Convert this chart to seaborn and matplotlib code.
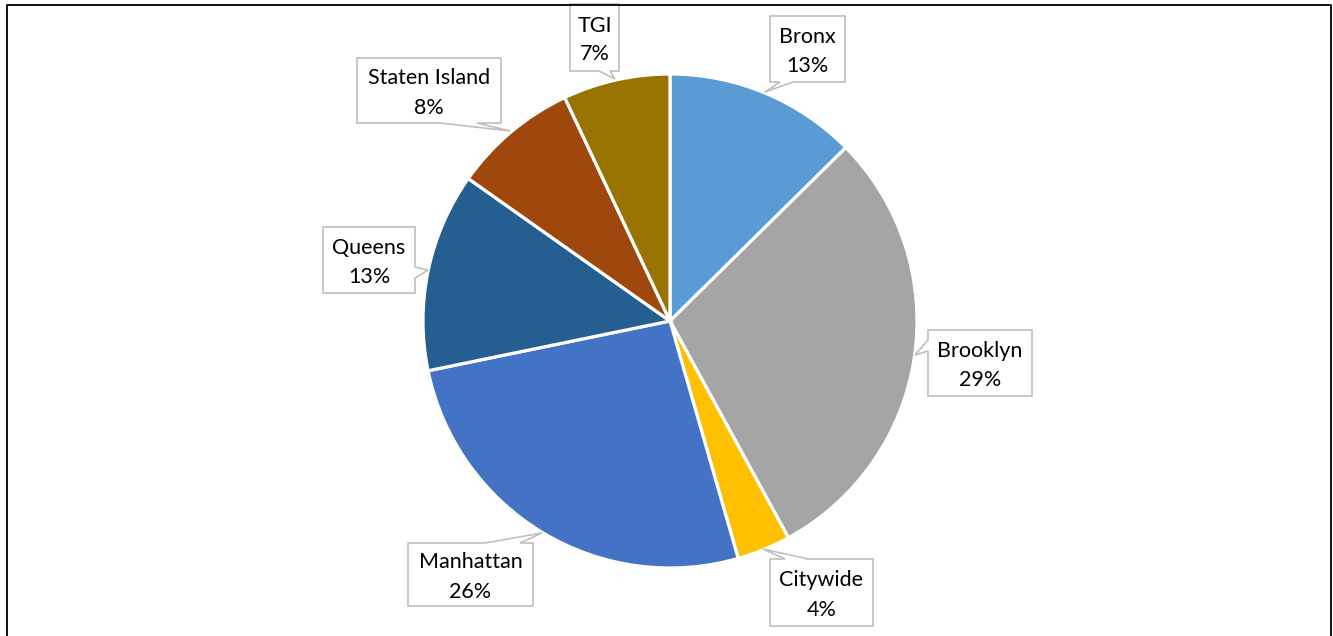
import matplotlib
matplotlib.use("Agg")
import matplotlib.pyplot as plt
from matplotlib.patches import Polygon
import seaborn as sns

# ---- data ----
categories = ["Bronx", "Brooklyn", "Citywide", "Manhattan", "Queens", "Staten Island", "TGI"]
values = [12.6, 29.4, 3.5, 26.2, 13.0, 8.2, 7.0]
colors = ["#5B9BD5", "#A5A5A5", "#FFC000", "#4472C4", "#255E91", "#9E480E", "#997300"]

# ---- callout layout (pixel positions, y downward) ----
# box: (x0, y0, x1, y1); tail: (edge, a, b, tip_x, tip_y)
callouts = {
    "Bronx":         ((770, 16, 845, 82),   ("bottom", 780, 793, 765, 92)),
    "Brooklyn":      ((928, 330, 1032, 396), ("left", 340, 351, 915, 355)),
    "Citywide":      ((770, 559, 873, 626),  ("top", 785, 808, 763, 549)),
    "Manhattan":     ((408, 543, 533, 606),  ("top", 485, 520, 542, 533)),
    "Queens":        ((323, 227, 415, 293),  ("right", 267, 278, 428, 270)),
    "Staten Island": ((357, 58, 501, 123),   ("bottom", 440, 477, 510, 131)),
    "TGI":           ((570, 4, 619, 71),     ("bottom", 599, 610, 615, 79)),
}

W, H = 1333, 636
sns.set_theme(style="white")
plt.rcParams["font.family"] = ["Lato", "DejaVu Sans"]

fig = plt.figure(figsize=(W / 100, H / 100), dpi=100)
ax = fig.add_axes([0, 0, 1, 1])

def fy(y):
    return H - y

palette = sns.color_palette(colors)
ax.pie(values, colors=palette, startangle=90, counterclock=False,
       center=(670, fy(321)), radius=247, frame=True,
       wedgeprops=dict(edgecolor="white", linewidth=2.3))
ax.set_xlim(0, W)
ax.set_ylim(0, H)
ax.axis("off")

total = sum(values)
for name, v in zip(categories, values):
    (x0, y0, x1, y1), (edge, a, b, tx, ty) = callouts[name]
    TL, TR, BR, BL = (x0, y0), (x1, y0), (x1, y1), (x0, y1)
    tip = (tx, ty)
    if edge == "top":
        pts = [TL, (a, y0), tip, (b, y0), TR, BR, BL]
    elif edge == "right":
        pts = [TL, TR, (x1, a), tip, (x1, b), BR, BL]
    elif edge == "bottom":
        pts = [TL, TR, BR, (b, y1), tip, (a, y1), BL]
    else:
        pts = [TL, TR, BR, BL, (x0, b), tip, (x0, a)]
    pts = [(px, fy(py)) for px, py in pts]
    ax.add_patch(Polygon(pts, closed=True, facecolor="white",
                         edgecolor="#BFBFBF", linewidth=1.2, zorder=5))
    cx = (x0 + x1) / 2
    cy = (y0 + y1) / 2 + 2.5
    pct = f"{round(v / total * 100)}%"
    ax.text(cx, fy(cy - 14.5), name, ha="center", va="center",
            fontsize=15.5, color="black", zorder=6)
    ax.text(cx, fy(cy + 14.5), pct, ha="center", va="center",
            fontsize=15.5, color="black", zorder=6)

# outer frame (open at bottom)
ax.plot([7, 7, 1331, 1331], [fy(H), fy(4.5), fy(4.5), fy(H)],
        color="black", linewidth=1.3, zorder=10, clip_on=False)

fig.savefig("out.png", dpi=100, facecolor="white")
